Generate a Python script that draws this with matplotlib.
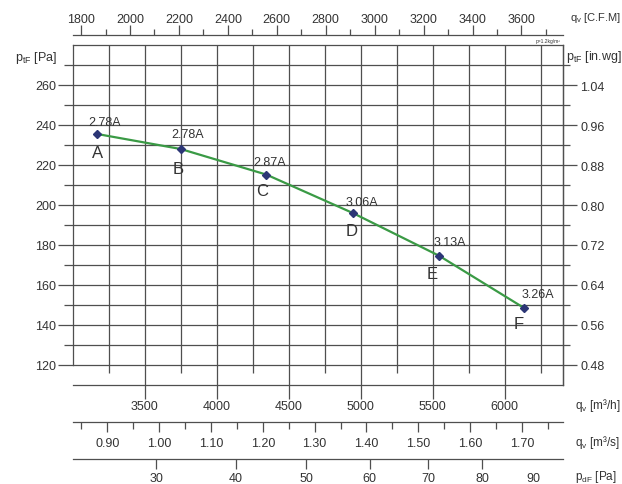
import matplotlib
matplotlib.use("Agg")
import matplotlib.pyplot as plt
import numpy as np

plt.rcParams["font.family"] = ["Liberation Sans", "DejaVu Sans"]
plt.rcParams["mathtext.fontset"] = "custom"
plt.rcParams["mathtext.rm"] = "Liberation Sans"
plt.rcParams["mathtext.it"] = "Liberation Sans"
plt.rcParams["mathtext.bf"] = "Liberation Sans:bold"

# operating points
point_names = ["A", "B", "C", "D", "E", "F"]
flow_m3h = [3170, 3750, 4345, 4945, 5545, 6135]
pressure_pa = [235.5, 228.0, 215.2, 196.0, 174.6, 148.5]
current_labels = ["2.78A", "2.78A", "2.87A", "3.06A", "3.13A", "3.26A"]

# axis scales
pa_ticks = [120, 140, 160, 180, 200, 220, 240, 260]
inwg_ticks = [0.48, 0.56, 0.64, 0.72, 0.80, 0.88, 0.96, 1.04]
m3h_ticks = [3500, 4000, 4500, 5000, 5500, 6000]
cfm_ticks = [1800, 2000, 2200, 2400, 2600, 2800, 3000, 3200, 3400, 3600]
m3s_ticks = [0.90, 1.00, 1.10, 1.20, 1.30, 1.40, 1.50, 1.60, 1.70]
pdf_ticks = [30, 40, 50, 60, 70, 80, 90]

M3H_PER_CFM = 1.699
PA_PER_INWG = 250.0
PDF_K = 653.5  # q [m3/h] = K * sqrt(pdF)

W, H = 622, 485
LINE = "#4f4f4f"
TEXT = "#333333"
LW = 0.9


def fx(px):
    return px / W


def fy(py):
    return 1 - py / H


def main():
    fig = plt.figure(figsize=(W / 100, H / 100), dpi=100)
    ax_left, ax_right, ax_top, ax_bottom = 72.7, 563.0, 46.0, 386.0
    ax = fig.add_axes([fx(ax_left), fy(ax_bottom), (ax_right - ax_left) / W, (ax_bottom - ax_top) / H])
    ax.set_xlim(3000, 6405)
    ax.set_ylim(110, 280)

    for side in ["left", "right", "top", "bottom"]:
        ax.spines[side].set_color(LINE)
        ax.spines[side].set_linewidth(LW)
    ax.spines["left"].set_bounds(120, 280)

    ax.set_xticks(m3h_ticks)
    ax.set_yticks(pa_ticks)
    ax.set_yticks(np.arange(130, 280, 20), minor=True)
    ax.tick_params(axis="x", which="major", length=10, width=LW, color=LINE,
                   pad=1, labelsize=9, labelcolor=TEXT)
    ax.tick_params(axis="y", which="major", length=10.5, width=LW, color=LINE,
                   pad=1.5, labelsize=9, labelcolor=TEXT)
    ax.tick_params(axis="y", which="minor", length=6.3, width=LW, color=LINE)
    ax.grid(True, axis="y", which="both", color=LINE, lw=LW)
    ax.grid(True, axis="x", which="major", color=LINE, lw=LW)
    ax.vlines(np.arange(3250, 6400, 500), 116, 280, color=LINE, lw=LW, clip_on=False)

    # right axis in in.wg
    sec_r = ax.secondary_yaxis("right", functions=(lambda p: p / PA_PER_INWG, lambda w: w * PA_PER_INWG))
    sec_r.set_yticks(inwg_ticks)
    sec_r.set_yticks(np.arange(0.52, 1.10, 0.08), minor=True)
    sec_r.set_yticklabels([f"{v:.2f}" for v in inwg_ticks])
    sec_r.spines["right"].set_color(LINE)
    sec_r.spines["right"].set_linewidth(LW)
    sec_r.tick_params(which="major", length=10, width=LW, color=LINE, pad=2.5,
                      labelsize=9, labelcolor=TEXT)
    sec_r.tick_params(which="minor", length=5, width=LW, color=LINE)

    # top axis in C.F.M
    sec_t = ax.secondary_xaxis((ax_bottom - 36) / (ax_bottom - ax_top),
                               functions=(lambda q: q / M3H_PER_CFM, lambda c: c * M3H_PER_CFM))
    sec_t.set_xticks(cfm_ticks)
    sec_t.set_xticks(np.arange(1900, 3800, 200), minor=True)
    sec_t.spines["top"].set_color(LINE)
    sec_t.spines["top"].set_linewidth(LW)
    sec_t.tick_params(which="major", length=7, width=LW, color=LINE, pad=0.5,
                      labelsize=9, labelcolor=TEXT)
    sec_t.tick_params(which="minor", length=4.3, width=LW, color=LINE)

    # bottom axis in m3/s
    sec_s = ax.secondary_xaxis((ax_bottom - 423) / (ax_bottom - ax_top),
                               functions=(lambda q: q / 3600, lambda s: s * 3600))
    sec_s.set_xticks(m3s_ticks)
    sec_s.set_xticks(np.arange(0.85, 1.80, 0.1), minor=True)
    sec_s.set_xticklabels([f"{v:.2f}" for v in m3s_ticks])
    sec_s.spines["bottom"].set_color(LINE)
    sec_s.spines["bottom"].set_linewidth(LW)
    sec_s.tick_params(which="major", length=7.2, width=LW, color=LINE, pad=3.5,
                      labelsize=9, labelcolor=TEXT)
    sec_s.tick_params(which="minor", length=5, width=LW, color=LINE)

    # bottom axis in dynamic pressure
    sec_d = ax.secondary_xaxis((ax_bottom - 460) / (ax_bottom - ax_top),
                               functions=(lambda q: (np.asarray(q) / PDF_K) ** 2,
                                          lambda p: PDF_K * np.sqrt(np.clip(p, 0, None))))
    sec_d.set_xticks(pdf_ticks)
    sec_d.spines["bottom"].set_color(LINE)
    sec_d.spines["bottom"].set_linewidth(LW)
    sec_d.tick_params(which="major", length=7.2, width=LW, color=LINE, pad=2,
                      labelsize=9, labelcolor=TEXT)
    sec_d.xaxis.get_major_ticks()[-1].tick1line.set_visible(False)

    # fan curve and operating points
    ax.plot(flow_m3h, pressure_pa, color="#3a9a45", lw=1.6, zorder=4)
    ax.plot(flow_m3h, pressure_pa, ls="none", marker="D", ms=3.6, color="#2c3676", zorder=5)

    amp_offsets = [(7, -12), (7, -15), (3, -13), (9, -11), (11, -14), (14, -14)]
    name_offsets = [(0, 18), (-3, 20), (-4, 16), (-1, 18), (-7, 18), (-5, 16)]
    for q, p, name, amp, ao, no in zip(flow_m3h, pressure_pa, point_names, current_labels,
                                       amp_offsets, name_offsets):
        ax.annotate(amp, (q, p), xytext=(ao[0] * 0.72, -ao[1] * 0.72), textcoords="offset points",
                    ha="center", va="center", fontsize=9, color=TEXT, zorder=6)
        ax.annotate(name, (q, p), xytext=(no[0] * 0.72, -no[1] * 0.72), textcoords="offset points",
                    ha="center", va="center", fontsize=12, color=TEXT, zorder=6)

    # axis titles
    fig.text(fx(57), fy(58), r"$\mathregular{p_{tF}}$ [Pa]", ha="right", va="center", fontsize=9, color=TEXT)
    fig.text(fx(566), fy(57), r"$\mathregular{p_{tF}}$ [in.wg]", ha="left", va="center", fontsize=9, color=TEXT)
    fig.text(fx(570), fy(18), r"$\mathregular{q_v}$ [C.F.M]", ha="left", va="center", fontsize=8, color=TEXT)
    fig.text(fx(561), fy(41), "p=1.2kg/m³", ha="right", va="center", fontsize=3.5, color=TEXT)
    fig.text(fx(575), fy(406), r"$\mathregular{q_v}$ [m³/h]", ha="left", va="center", fontsize=8.5, color=TEXT)
    fig.text(fx(575), fy(443), r"$\mathregular{q_v}$ [m³/s]", ha="left", va="center", fontsize=8.5, color=TEXT)
    fig.text(fx(575), fy(477), r"$\mathregular{p_{dF}}$ [Pa]", ha="left", va="center", fontsize=8.5, color=TEXT)

    fig.savefig("out.png", dpi=100)
    plt.close(fig)


if __name__ == "__main__":
    main()
